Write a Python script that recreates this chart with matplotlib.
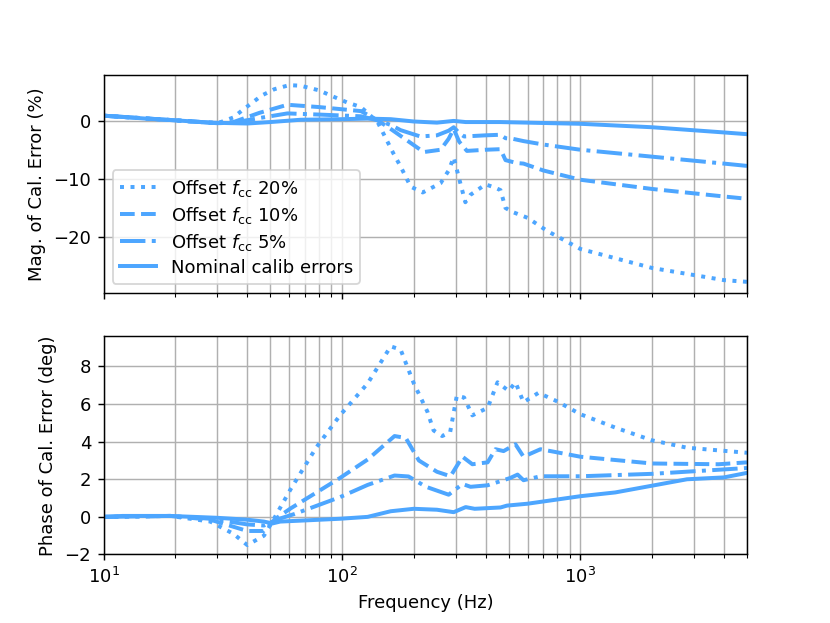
import matplotlib
matplotlib.use('Agg')
import matplotlib.pyplot as plt
import numpy as np

COLOR = '#4da6ff'

# ---- magnitude of calibration error (%) ----
mag_nom_f = [10, 12, 15, 20, 28, 35, 40, 50, 67, 100, 128, 160, 200, 250, 294, 330,
             400, 460, 600, 1000, 2000, 4000, 5000]
mag_nom = [1.0, 0.8, 0.5, 0.2, -0.2, -0.3, -0.35, -0.1, 0.3, 0.4, 0.5, 0.4, 0.0, -0.2,
           0.1, -0.1, -0.1, -0.1, -0.2, -0.4, -1.0, -1.9, -2.2]

mag_5_f = [10, 20, 30, 35, 45, 59, 80, 120, 141, 160, 176, 213, 250, 280, 294, 310, 325,
           400, 462, 485, 520, 577, 700, 1000, 2000, 4000, 5000]
mag_5 = [1.0, 0.2, -0.3, -0.2, 0.6, 1.4, 1.2, 0.9, 0.2, -0.6, -1.5, -2.6, -2.4, -1.6,
         -1.0, -2.0, -2.6, -2.4, -2.3, -2.9, -3.0, -3.4, -4.0, -4.9, -6.1, -7.3, -7.7]

mag_10_f = [10, 20, 30, 35, 45, 59, 80, 120, 141, 160, 176, 220, 259, 280, 294, 310, 334,
            400, 462, 485, 540, 577, 700, 1000, 2000, 4000, 5000]
mag_10 = [1.0, 0.2, -0.3, -0.1, 1.5, 2.9, 2.5, 1.8, 0.2, -1.3, -2.5, -5.3, -4.9, -3.0,
          -1.3, -3.5, -5.1, -4.9, -4.8, -6.7, -7.2, -7.3, -8.5, -10.1, -11.7, -13.0, -13.4]

mag_20_f = [10, 20, 28, 31, 35, 38, 46, 52, 60, 67, 80, 92, 105, 120, 141, 164, 176, 194,
            218, 259, 280, 294, 308, 329, 346, 400, 440, 462, 485, 520, 600, 727, 1000,
            2000, 4000, 5000]
mag_20 = [1.0, 0.2, -0.2, -0.1, 0.7, 1.9, 4.5, 5.6, 6.3, 6.2, 5.4, 4.3, 3.3, 2.5, -0.1,
          -5.5, -7.8, -11.3, -12.3, -10.7, -8.5, -6.2, -9.5, -14.0, -12.7, -10.9, -11.5,
          -11.9, -15.0, -15.7, -16.7, -19.0, -22.1, -25.4, -27.5, -27.8]

# ---- phase of calibration error (deg) ----
ph_nom_f = [10, 12, 19, 30, 40, 47, 51, 55, 67, 98, 128, 160, 200, 250, 294, 330, 360,
            462, 492, 600, 1000, 1400, 2000, 2800, 4000, 5000]
ph_nom = [0.0, 0.05, 0.05, -0.05, -0.15, -0.25, -0.35, -0.25, -0.2, -0.1, 0.0, 0.3, 0.43,
          0.38, 0.25, 0.52, 0.43, 0.5, 0.6, 0.7, 1.1, 1.3, 1.66, 2.0, 2.1, 2.34]

ph_5_f = [10, 19, 28, 40, 47, 53, 63, 98, 128, 166, 190, 225, 280, 320, 346, 408, 508,
          545, 577, 680, 1000, 2000, 5000]
ph_5 = [0.0, 0.05, -0.1, -0.4, -0.46, -0.15, 0.15, 1.05, 1.7, 2.2, 2.15, 1.6, 1.18, 1.75,
        1.6, 1.68, 2.07, 2.25, 1.95, 2.16, 2.16, 2.29, 2.6]

ph_10_f = [10, 19, 28, 40, 47, 53, 61, 98, 128, 166, 185, 210, 250, 285, 320, 352, 408,
           440, 476, 534, 577, 680, 1000, 2000, 3800, 5000]
ph_10 = [0.0, 0.05, -0.15, -0.75, -0.75, -0.07, 0.46, 2.07, 3.05, 4.3, 4.2, 3.0, 2.4, 2.16,
         3.2, 2.8, 2.9, 3.6, 3.5, 3.86, 3.2, 3.6, 3.2, 2.84, 2.8, 2.9]

ph_20_f = [10, 19, 28, 35, 40, 47, 51, 61, 78, 98, 128, 160, 176, 200, 228, 242, 263, 284,
           303, 325, 352, 408, 449, 500, 534, 577, 667, 800, 1000, 1400, 2000, 2800, 5000]
ph_20 = [0.0, 0.05, -0.25, -0.9, -1.5, -1.0, -0.25, 1.5, 3.7, 5.4, 7.1, 9.07, 8.9, 7.1,
         5.6, 4.6, 4.3, 4.5, 6.45, 6.35, 5.4, 5.8, 7.16, 6.7, 7.16, 6.1, 6.6, 6.14, 5.46,
         4.75, 4.07, 3.68, 3.41]


fig, axs = plt.subplots(2, 1, sharex=True, figsize=(830 / 130, 623 / 130), dpi=130)

lw = 2.2
axs[0].plot(mag_20_f, mag_20, ':', color=COLOR, lw=lw, label=r'Offset $f_{\rm cc}$ 20%')
axs[0].plot(mag_10_f, mag_10, '--', color=COLOR, lw=lw, label=r'Offset $f_{\rm cc}$ 10%')
axs[0].plot(mag_5_f, mag_5, '-.', color=COLOR, lw=lw, label=r'Offset $f_{\rm cc}$ 5%')
axs[0].plot(mag_nom_f, mag_nom, '-', color=COLOR, lw=lw, label='Nominal calib errors')
axs[0].set_ylabel('Mag. of Cal. Error (%)')
axs[0].legend(loc='lower left', labelspacing=0.33)

axs[1].plot(ph_20_f, ph_20, ':', color=COLOR, lw=lw)
axs[1].plot(ph_10_f, ph_10, '--', color=COLOR, lw=lw)
axs[1].plot(ph_5_f, ph_5, '-.', color=COLOR, lw=lw)
axs[1].plot(ph_nom_f, ph_nom, '-', color=COLOR, lw=lw)
axs[1].set_ylabel('Phase of Cal. Error (deg)')
axs[1].set_xlabel('Frequency (Hz)')
axs[1].set_yticks([-2, 0, 2, 4, 6, 8])

for ax in axs:
    ax.set_xscale('log')
    ax.set_xlim(10, 5000)
    ax.grid(True, which='both')

axs[0].set_ylim(-29.7, 8.1)
axs[1].set_ylim(-2.0, 9.6)

fig.savefig('out.png', dpi=130)
